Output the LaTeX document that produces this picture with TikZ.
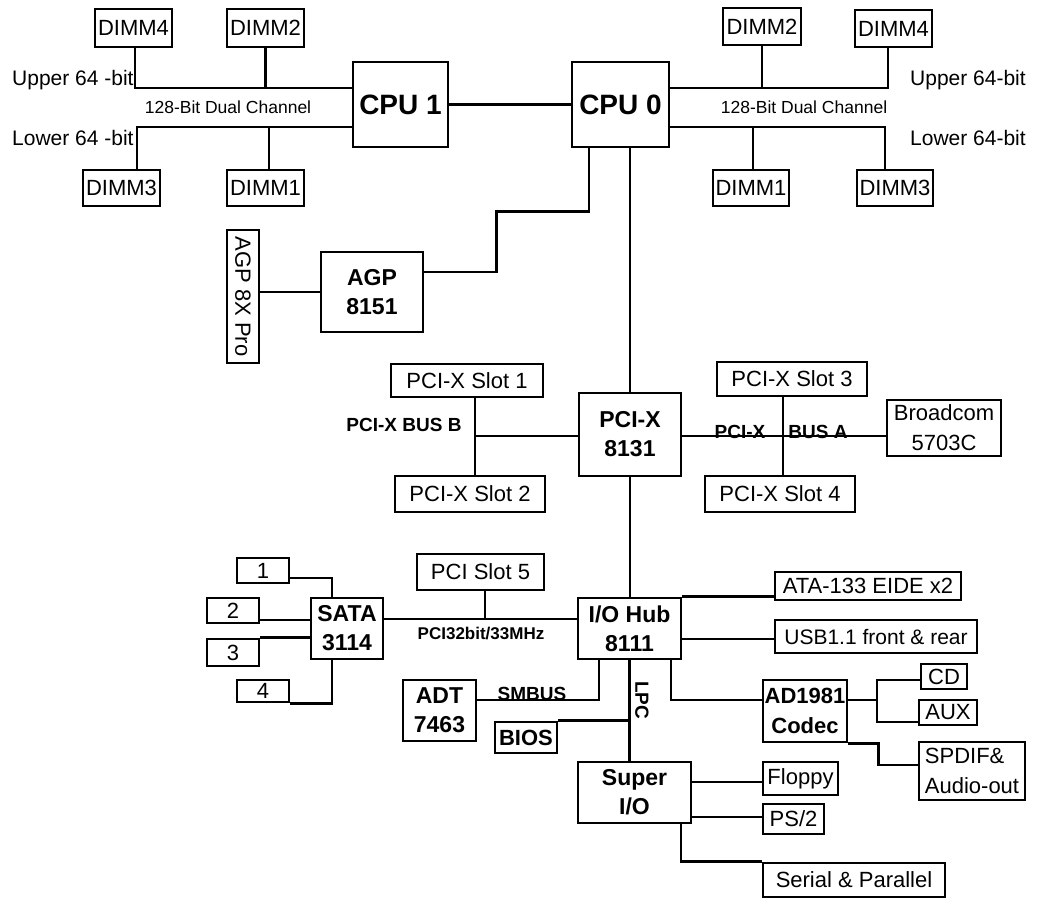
\documentclass[tikz,border=0pt]{standalone}
\usepackage{fontspec}
\setmainfont{Liberation Sans}
\tikzset{
  bus/.style={draw=black,line width=2.6pt},
  box/.style={draw=black,line width=2.6pt,inner sep=0pt,align=center,
    font=\fontsize{22}{30}\selectfont},
  chip/.style={box,font=\bfseries\fontsize{23}{29}\selectfont},
  cpu/.style={box,font=\bfseries\fontsize{28}{30}\selectfont},
  lbl/.style={inner sep=0pt,font=\fontsize{21}{24}\selectfont},
  small/.style={inner sep=0pt,font=\fontsize{17.5}{20}\selectfont},
  blbl/.style={inner sep=0pt,font=\bfseries\fontsize{19}{22}\selectfont},
  wh/.style 2 args={minimum width=#1pt,minimum height=#2pt},
}
\begin{document}
\begin{tikzpicture}[x=1pt,y=-1pt]
\useasboundingbox (0,0) rectangle (1044,898);
% processors and memory
\node[cpu,wh={95}{85}] (cpu1) at (400.5,104.5) {CPU 1};
\node[cpu,wh={97}{85}] (cpu0) at (620.5,104.5) {CPU 0};
\node[box,wh={77}{38}] (dimmLd) at (133.5,28) {DIMM4};
\node[box,wh={77}{38}] (dimmLb) at (265.5,28) {DIMM2};
\node[box,wh={77}{36}] (dimmLc) at (121.5,188) {DIMM3};
\node[box,wh={77}{36}] (dimmLa) at (265.5,188) {DIMM1};
\node[box,wh={78}{37}] (dimmRb) at (762,26.5) {DIMM2};
\node[box,wh={77}{37}] (dimmRd) at (893.5,28.5) {DIMM4};
\node[box,wh={76}{36}] (dimmRa) at (751,188) {DIMM1};
\node[box,wh={76}{36}] (dimmRc) at (895,188) {DIMM3};
\node[lbl,anchor=west] (upL) at (12,80) {Upper 64 -bit};
\node[lbl,anchor=west] (loL) at (12,138) {Lower 64 -bit};
\node[lbl,anchor=west] (upR) at (910,80) {Upper 64-bit};
\node[lbl,anchor=west] (loR) at (910,138) {Lower 64-bit};
\node[small] (chL) at (228,107) {128-Bit Dual Channel};
\node[small] (chR) at (804,107) {128-Bit Dual Channel};
\draw[bus] ([xshift=1.5pt]dimmLd.south) |- ([yshift=16.5pt]cpu1.west);
\draw[bus] (dimmLb.south) -- ++(0,41);
\draw[bus] ([xshift=15.5pt]dimmLc.north) |- ([yshift=-22.5pt]cpu1.west);
\draw[bus] ([xshift=3.5pt]dimmLa.north) -- ++(0,-43);
\draw[bus] ([yshift=16.5pt]cpu0.east) -| ([xshift=-5.5pt]dimmRd.south);
\draw[bus] (dimmRb.south) -- ++(0,43);
\draw[bus] ([yshift=-22.5pt]cpu0.east) -| ([xshift=-10pt]dimmRc.north);
\draw[bus] ([xshift=2pt]dimmRa.north) -- ++(0,-43);
\draw[bus] (cpu1) -- (cpu0);
% AGP
\node[chip,wh={102}{80}] (agp) at (372,292) {AGP\\8151};
\node[box,wh={133}{32},rotate=-90] (agpslot) at (243,296.5) {AGP 8X Pro};
\draw[bus] ([xshift=-31.5pt]cpu0.south) -- ++(0,63) -| ([xshift=72pt,yshift=20pt]agp.east) -- ([yshift=20pt]agp.east);
\draw[bus] (agp.west) -- (agp.west -| agpslot.north);
% PCI-X tunnel
\node[chip,wh={102}{83}] (pcix) at (630,434.5) {PCI-X\\8131};
\node[box,wh={152}{33}] (slot1) at (467,380.5) {PCI-X Slot 1};
\node[box,wh={150}{36}] (slot2) at (470,494) {PCI-X Slot 2};
\node[box,wh={150}{34}] (slot3) at (792,379) {PCI-X Slot 3};
\node[box,wh={150}{36}] (slot4) at (780,494) {PCI-X Slot 4};
\node[box,wh={114}{56}] (bcm) at (944,428) {Broadcom\\5703C};
\coordinate (busB) at (475,436);
\coordinate (busA) at (783,436);
\draw[bus] (pcix.north) -- (pcix.north |- cpu0.south);
\draw[bus] (pcix.west |- busB) -- (busB);
\draw[bus] (slot1.south -| busB) -- (slot2.north -| busB);
\draw[bus] (pcix.east |- busA) -- (busA -| bcm.west);
\draw[line width=1.2pt] (slot3.south -| busA) -- (slot4.north -| busA);
\node[blbl] (labB) at (404,425) {PCI-X BUS B};
\node[blbl] (labA1) at (740,432) {PCI-X};
\node[blbl] (labA2) at (818,432) {BUS A};
% I/O hub and SATA
\node[chip,wh={103}{61}] (hub) at (629.5,628.5) {I/O Hub\\8111};
\node[chip,wh={72}{61}] (sata) at (347,628.5) {SATA\\3114};
\node[box,wh={52}{25}] (s1) at (263,570.5) {1};
\node[box,wh={52}{25}] (s2) at (233,610.5) {2};
\node[box,wh={52}{27}] (s3) at (233,652.5) {3};
\node[box,wh={52}{22}] (s4) at (263,691) {4};
\node[box,wh={127}{36}] (slot5) at (480.5,572) {PCI Slot 5};
\draw[bus] ([yshift=-7.5pt]s1.east) -| ([xshift=-15pt]sata.north);
\draw[bus] ([yshift=-9.5pt]s2.east) -- ++(52,0);
\draw[bus] (s3.north east) -- ++(52,0);
\draw[bus] (s4.south east) -| ([xshift=-15pt]sata.south);
\draw[bus] ([yshift=9.5pt]sata.east) -- ([yshift=9.5pt]hub.west);
\draw[bus] ([xshift=4.5pt]slot5.south) -- ++(0,29);
\draw[bus] (pcix.south) -- (pcix.south |- hub.north);
\node[inner sep=0pt,font=\bfseries\fontsize{17}{20}\selectfont] (pcibus) at (481,633) {PCI32bit/33MHz};
\node[box,wh={186}{28}] (ata) at (868,586) {ATA-133 EIDE x2};
\node[box,wh={202}{33},font=\fontsize{21}{26}\selectfont] (usb) at (876,636.5) {USB1.1 front \& rear};
\draw[bus] (hub.north east) -- (hub.north east -| ata.west);
\draw[bus] ([yshift=-10.5pt]hub.east) -- ++(94,0);
% management and LPC
\node[chip,wh={73}{61}] (adt) at (439.5,710.5) {ADT\\7463};
\node[chip,wh={62}{31},font=\bfseries\fontsize{22}{26}\selectfont] (bios) at (526,737.5) {BIOS};
\node[chip,wh={113}{61}] (sio) at (634.5,792.5) {Super\\I/O};
\draw[bus] ([xshift=-30.5pt]hub.south) |- ([yshift=10.5pt]adt.east);
\node[blbl] (smb) at (532,694) {SMBUS};
\draw[bus] (hub.south) -- (hub.south |- sio.north);
\draw[bus] (bios.north east) -- (bios.north east -| hub.south);
\node[blbl,rotate=-90] (lpc) at (642,700) {LPC};
% audio
\node[chip,wh={84}{62},font=\bfseries\fontsize{22}{30}\selectfont] (codec) at (805,711) {AD1981\\Codec};
\node[box,wh={46}{25}] (cd) at (944,676.5) {CD};
\node[box,wh={58}{25}] (aux) at (948,712.5) {AUX};
\node[box,wh={106}{58},align=left] (spdif) at (972,771) {SPDIF\&\\Audio-out};
\coordinate (cdTap) at (877,680);
\coordinate (auxTap) at (877,722);
\draw[bus] ([xshift=41.5pt]hub.south) |- ([yshift=11pt]codec.west);
\draw[bus] ([yshift=11pt]codec.east) -- ++(30,0);
\draw[bus] (cdTap -| cd.west) -- (cdTap) -- (auxTap) -- (auxTap -| aux.west);
\draw[bus] (codec.south east) -- ++(30,0) |- ([yshift=6pt]spdif.west);
% legacy I/O
\node[box,wh={75}{33}] (floppy) at (800.5,778.5) {Floppy};
\node[box,wh={61}{30}] (ps2) at (793.5,819) {PS/2};
\node[box,wh={182}{34}] (serial) at (854,880) {Serial \& Parallel};
\draw[bus] ([yshift=10.5pt]sio.east) -- ++(72,0);
\draw[bus] ([yshift=-24.5pt]sio.east) -- ++(72,0);
\draw[bus] ([xshift=46.5pt]sio.south) |- (serial.north west);
\end{tikzpicture}
\end{document}
